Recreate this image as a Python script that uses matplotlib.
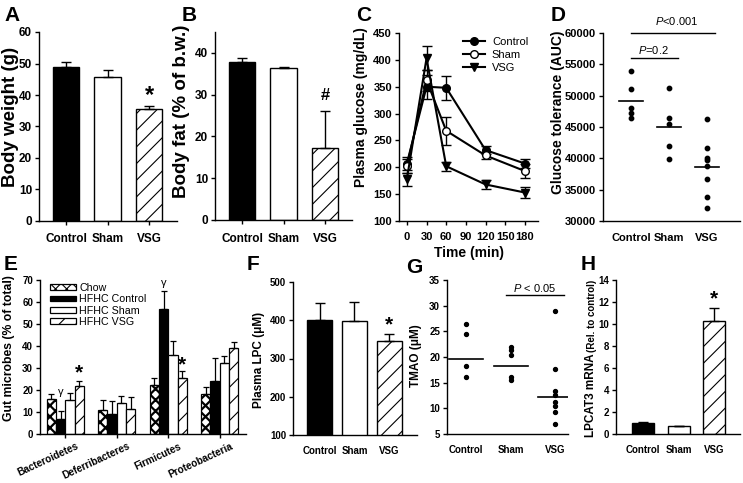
import numpy as np
import matplotlib
matplotlib.use('Agg')
import matplotlib.pyplot as plt
from matplotlib.transforms import ScaledTranslation
from matplotlib.patches import Patch
from matplotlib.lines import Line2D

plt.rcParams['font.family'] = ['Liberation Sans', 'DejaVu Sans']
plt.rcParams['font.weight'] = 'bold'
plt.rcParams['hatch.linewidth'] = 0.8
plt.rcParams['axes.linewidth'] = 1.0
plt.rcParams['mathtext.fontset'] = 'custom'
plt.rcParams['mathtext.it'] = 'Liberation Sans:style=italic:weight=normal'
plt.rcParams['mathtext.rm'] = 'Liberation Sans:weight=normal'

# ---------------- data ----------------
groups = ['Control', 'Sham', 'VSG']

body_weight = [48.8, 45.7, 35.5]
body_weight_err = [1.8, 2.3, 1.0]

body_fat = [37.9, 36.5, 17.3]
body_fat_err = [0.9, 0.15, 8.8]

time_min = [0, 30, 60, 120, 180]
glu_control = [207, 350, 348, 232, 207]
glu_control_err = [12, 22, 22, 8, 8]
glu_sham = [202, 362, 268, 222, 193]
glu_sham_err = [13, 20, 26, 7, 13]
glu_vsg = [178, 403, 202, 168, 153]
glu_vsg_err = [12, 22, 8, 8, 11]

auc_control = [53900, 51000, 48100, 47200, 46500]
auc_sham = [51300, 46400, 45500, 41900, 39900]
auc_vsg = [46300, 41600, 40000, 39700, 38800, 36700, 33900, 32100]
auc_means = [49200, 45000, 38600]

phyla = ['Bacteroidetes', 'Deferribacteres', 'Firmicutes', 'Proteobacteria']
gut_labels = ['Chow', 'HFHC Control', 'HFHC Sham', 'HFHC VSG']
gut_chow = [15.9, 10.7, 22.1, 18.2]
gut_chow_err = [2.4, 4.6, 3.3, 3.3]
gut_hfhc_control = [7.0, 9.2, 56.7, 24.2]
gut_hfhc_control_err = [3.3, 5.9, 8.5, 10.5]
gut_hfhc_sham = [15.3, 14.1, 36.0, 32.1]
gut_hfhc_sham_err = [3.3, 3.4, 6.5, 3.5]
gut_hfhc_vsg = [21.9, 11.3, 25.4, 39.1]
gut_hfhc_vsg_err = [2.3, 5.3, 3.3, 2.9]

lpc = [400, 398, 346]
lpc_err = [46, 49, 17]

tmao_control = [26.4, 24.5, 18.3, 16.1]
tmao_sham = [21.9, 21.4, 20.4, 16.1, 15.6]
tmao_vsg = [29.0, 17.7, 13.3, 12.6, 11.3, 10.4, 9.2, 6.9]
tmao_means = [19.7, 18.3, 12.2]

lpcat3 = [1.0, 0.7, 10.3]
lpcat3_err = [0.1, 0.07, 1.2]

# ---------------- figure ----------------
W, H = 743, 483
fig = plt.figure(figsize=(7.43, 4.83), dpi=100)


def ax_px(l, t, r, b):
    return fig.add_axes([l / W, 1 - b / H, (r - l) / W, (b - t) / H])


def style(ax, fs):
    for s in ['top', 'right']:
        ax.spines[s].set_visible(False)
    ax.tick_params(axis='both', direction='out', length=3, width=1.0,
                   labelsize=fs, pad=2)
    ax.tick_params(axis='x', pad=6)


def ylab(ax, text, xr, yc, fs):
    ax.set_ylabel(text, fontsize=fs, fontweight='bold')
    ax.yaxis.set_label_coords(xr / W, 1 - yc / H, transform=fig.transFigure)


def panel(letter, x, y):
    fig.text(x / W, 1 - y / H, letter, fontsize=15, fontweight='bold',
             ha='left', va='top')


bar_fc = ['black', 'white', 'white']
bar_hatch = [None, None, '//']


def bars(ax, vals, errs, width):
    xs = np.arange(1, len(vals) + 1)
    for x, v, e, fc, h in zip(xs, vals, errs, bar_fc, bar_hatch):
        ax.bar(x, v, width=width, color=fc, edgecolor='black', linewidth=1.0,
               hatch=h, zorder=2)
        ax.errorbar(x, v, yerr=[[0], [e]], fmt='none', ecolor='black',
                    elinewidth=1.0, capsize=3.5, capthick=1.0, zorder=3)
    ax.set_xticks(xs)
    ax.set_xticklabels(groups)


# ---- A ----
axA = ax_px(39, 32, 177, 221)
bars(axA, body_weight, body_weight_err, 0.63)
axA.set_xlim(0.35, 3.67)
axA.set_ylim(0, 60)
axA.set_yticks(range(0, 61, 10))
style(axA, 8.5)
ylab(axA, 'Body weight (g)', 19, 117, 13.5)
axA.text(3, 39.8, '*', ha='center', va='center', fontsize=17, fontweight='bold')
panel('A', 4, 6)

# ---- B ----
axB = ax_px(215, 32, 352, 220)
bars(axB, body_fat, body_fat_err, 0.63)
axB.set_xlim(0.35, 3.65)
axB.set_ylim(0, 45)
axB.set_yticks(range(0, 41, 10))
style(axB, 8.5)
ylab(axB, 'Body fat (% of b.w.)', 190, 111, 13.5)
axB.text(3, 29.8, '#', ha='center', va='center', fontsize=12, fontweight='bold')
panel('B', 182, 6)

# ---- C ----
axC = ax_px(399, 33, 538, 221)
for vals, errs, mk, mfc, lab in [
        (glu_control, glu_control_err, 'o', 'black', 'Control'),
        (glu_sham, glu_sham_err, 'o', 'white', 'Sham'),
        (glu_vsg, glu_vsg_err, 'v', 'black', 'VSG')]:
    axC.errorbar(time_min, vals, yerr=errs, color='black', marker=mk,
                 markerfacecolor=mfc, markeredgecolor='black', markersize=5.5,
                 linewidth=1.5, elinewidth=1.0, capsize=3.5, capthick=1.0,
                 label=lab, zorder=3)
axC.set_xlim(-12, 200)
axC.set_ylim(100, 450)
axC.set_xticks(range(0, 181, 30))
axC.set_yticks(range(100, 451, 50))
style(axC, 8)
axC.tick_params(axis='x', pad=5)
ylab(axC, 'Plasma glucose (mg/dL)', 368, 107, 10)
axC.set_xlabel('Time (min)', fontsize=10, fontweight='bold', labelpad=3)
hC = [Line2D([0], [0], color='black', lw=1.5, marker='o', mfc='black', ms=5.5),
      Line2D([0], [0], color='black', lw=1.5, marker='o', mfc='white', ms=5.5),
      Line2D([0], [0], color='black', lw=1.5, marker='v', mfc='black', ms=5.5)]
axC.legend(hC, groups, loc='upper left', bbox_to_anchor=(463 / W, 1 - 37 / H),
           bbox_transform=fig.transFigure, frameon=False,
           prop={'weight': 'normal', 'size': 8}, handlelength=2.0,
           handletextpad=0.6, labelspacing=0.25, borderpad=0, borderaxespad=0)
panel('C', 356, 6)

# ---- D ----
axD = ax_px(603, 33, 740, 221)
for i, pts in enumerate([auc_control, auc_sham, auc_vsg]):
    axD.scatter(np.full(len(pts), i + 1), pts, s=10, color='black', zorder=3)
    axD.plot([i + 1 - 0.32, i + 1 + 0.32], [auc_means[i]] * 2, color='black', lw=1.2)
axD.set_xlim(0.26, 3.87)
axD.set_ylim(30000, 60000)
axD.set_yticks(range(30000, 60001, 5000))
axD.set_xticks([1, 2, 3])
axD.set_xticklabels(groups)
style(axD, 8)
axD.tick_params(axis='x', length=0, pad=9)
ylab(axD, 'Glucose tolerance (AUC)', 565, 112, 10)
axD.plot([1.0, 3.22], [60000, 60000], color='black', lw=1.0, clip_on=False)
axD.text(2.2, 60900, '$\\mathit{P}$<0.001', ha='center', va='bottom', fontsize=8,
         fontweight='normal')
axD.plot([1.0, 2.23], [56000, 56000], color='black', lw=1.0)
axD.text(1.6, 56400, '$\\mathit{P}$=0.2', ha='center', va='bottom', fontsize=8,
         fontweight='normal')
panel('D', 551, 6)

# ---- E ----
axE = ax_px(40, 280, 246, 434)
xg = np.arange(len(phyla))
bw = 0.18
gut_series = [(gut_chow, gut_chow_err, 'white', 'xxx'),
              (gut_hfhc_control, gut_hfhc_control_err, 'black', None),
              (gut_hfhc_sham, gut_hfhc_sham_err, 'white', None),
              (gut_hfhc_vsg, gut_hfhc_vsg_err, 'white', '//')]
handles = []
for k, (vals, errs, fc, h) in enumerate(gut_series):
    xs = xg + (k - 1.5) * bw
    b = axE.bar(xs, vals, width=bw, color=fc, edgecolor='black', linewidth=0.9,
                hatch=h, zorder=2)
    if k == 0:
        for p in b:
            try:
                p.set_hatch_linewidth(1.6)
            except Exception:
                pass
    axE.errorbar(xs, vals, yerr=[np.zeros(len(vals)), errs], fmt='none',
                 ecolor='black', elinewidth=0.9, capsize=2.5, capthick=0.9, zorder=3)
    hp = Patch(facecolor=fc, edgecolor='black', hatch=h, linewidth=0.9)
    if k == 0:
        try:
            hp.set_hatch_linewidth(1.6)
        except Exception:
            pass
    handles.append(hp)
axE.set_xlim(-0.49, 3.51)
axE.set_ylim(0, 70)
axE.set_yticks(range(0, 71, 10))
axE.set_xticks(xg)
axE.set_xticklabels(phyla, rotation=25, ha='right', va='center',
                    rotation_mode='anchor')
style(axE, 7)
axE.tick_params(axis='x', pad=2, labelsize=7.2)
for lbl in axE.get_xticklabels():
    lbl.set_transform(lbl.get_transform() + ScaledTranslation(0.13, -0.045, fig.dpi_scale_trans))
ylab(axE, 'Gut microbes (% of total)', 15, 348, 8.8)
axE.legend(handles, gut_labels, loc='upper left', bbox_to_anchor=(50 / W, 1 - 283 / H),
           bbox_transform=fig.transFigure, frameon=False,
           prop={'weight': 'normal', 'size': 7.7}, handlelength=2.4,
           handleheight=0.45, handletextpad=0.35, labelspacing=0.12,
           borderpad=0, borderaxespad=0)
axE.text(0 - 0.5 * bw, 19.2, 'γ', ha='center', va='center', fontsize=8, fontweight='normal')
axE.text(2 - 0.5 * bw, 68.5, 'γ', ha='center', va='center', fontsize=8, fontweight='normal')
axE.text(0 + 1.5 * bw, 27.8, '*', ha='center', va='center', fontsize=15, fontweight='bold')
axE.text(2 + 1.5 * bw, 31.5, '*', ha='center', va='center', fontsize=15, fontweight='bold')
panel('E', 4, 255)

# ---- F ----
axF = ax_px(293, 282, 417, 435)
bars(axF, lpc, lpc_err, 0.7)
axF.set_xlim(0.24, 3.79)
axF.set_ylim(100, 500)
axF.set_yticks(range(100, 501, 100))
style(axF, 7)
axF.tick_params(axis='x', length=0, pad=8)
ylab(axF, 'Plasma LPC (μM)', 265, 360, 8.5)
axF.text(3, 387, '*', ha='center', va='center', fontsize=15, fontweight='bold')
panel('F', 247, 255)

# ---- G ----
axG = ax_px(447, 280, 568, 434)
for i, pts in enumerate([tmao_control, tmao_sham, tmao_vsg]):
    axG.scatter(np.full(len(pts), i + 1), pts, s=8, color='black', zorder=3)
    axG.plot([i + 1 - 0.38, i + 1 + 0.38], [tmao_means[i]] * 2, color='black', lw=1.2)
axG.set_xlim(0.57, 3.29)
axG.set_ylim(5, 35)
axG.set_yticks(range(5, 36, 5))
axG.set_xticks([1, 2, 3])
axG.set_xticklabels(groups)
style(axG, 7)
axG.tick_params(axis='x', length=0, pad=8)
ylab(axG, 'TMAO (μM)', 422, 356, 8.5)
axG.plot([1.9, 3.2], [32, 32], color='black', lw=1.0, clip_on=False)
axG.text(2.55, 32.3, '$\\mathit{P}$ < 0.05', ha='center', va='bottom', fontsize=8,
         fontweight='normal')
panel('G', 406, 258)

# ---- H ----
axH = ax_px(616, 280, 740, 434)
bars(axH, lpcat3, lpcat3_err, 0.62)
axH.set_xlim(0.24, 3.73)
axH.set_ylim(0, 14)
axH.set_yticks(range(0, 15, 2))
style(axH, 7)
axH.tick_params(axis='x', length=0, pad=8)
fig.text(597 / W, 1 - 437 / H, 'LPCAT3 mRNA', rotation=90, ha='right', va='bottom',
         fontsize=8.5, fontweight='bold')
fig.text(597 / W, 1 - 352 / H, '(Rel. to control)', rotation=90, ha='right', va='bottom',
         fontsize=7, fontweight='bold')
axH.text(3, 12.3, '*', ha='center', va='center', fontsize=15, fontweight='bold')
panel('H', 581, 255)

fig.savefig('out.png', dpi=100)
